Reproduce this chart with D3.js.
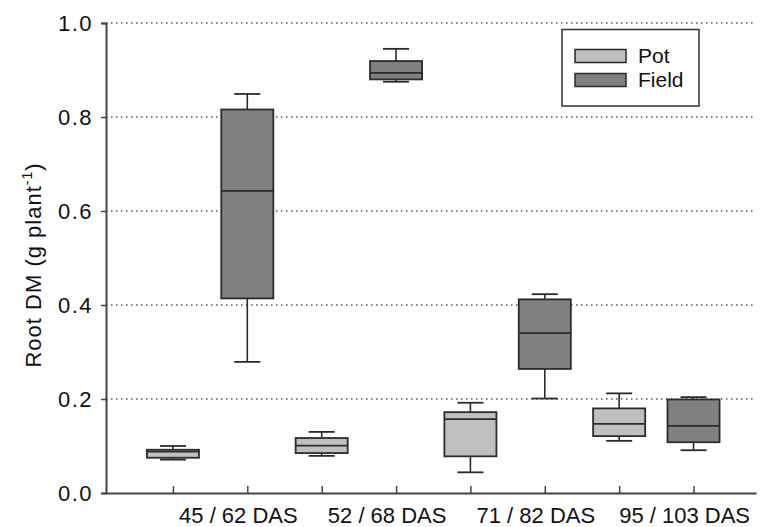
<!DOCTYPE html>
<html>
<head>
<meta charset="utf-8">
<script src="https://cdn.jsdelivr.net/npm/d3@7"></script>
<style>
  body { margin: 0; background: #fff; }
  svg { display: block; font-family: "Liberation Sans", Arial, sans-serif; }
</style>
</head>
<body>
<div id="chart"></div>
<script>
// categories and series
const groups = ["45 / 62 DAS", "52 / 68 DAS", "71 / 82 DAS", "95 / 103 DAS"];
const series = ["Pot", "Field"];
// box stats per group: [whisker low, q1, median, q3, whisker high]
const potStats = [
  [0.071, 0.075, 0.088, 0.092, 0.100],
  [0.079, 0.085, 0.101, 0.117, 0.130],
  [0.044, 0.078, 0.157, 0.172, 0.192],
  [0.111, 0.121, 0.147, 0.180, 0.212]
];
const fieldStats = [
  [0.279, 0.414, 0.643, 0.816, 0.849],
  [0.875, 0.880, 0.894, 0.919, 0.945],
  [0.201, 0.264, 0.340, 0.412, 0.423],
  [0.091, 0.108, 0.143, 0.199, 0.204]
];
const yTicks = [0, 0.2, 0.4, 0.6, 0.8, 1.0];

const width = 763, height = 527;
const colors = { Pot: "#bfbfbf", Field: "#808080" };
const stroke = "#2b2b2b";

const svg = d3.select("#chart").append("svg")
  .attr("width", width)
  .attr("height", height);

// slot index 1..8 : group*2 + series + 1
const x = d3.scaleLinear().domain([0.1, 8.84]).range([106, 756]);
const y = d3.scaleLinear().domain([0, 1]).range([493, 23]);
const boxW = x(0.7) - x(0);

// dotted grid
svg.append("g")
  .selectAll("line")
  .data(yTicks.filter(d => d > 0))
  .join("line")
  .attr("x1", x(0.1)).attr("x2", x(8.84))
  .attr("y1", d => y(d)).attr("y2", d => y(d))
  .attr("stroke", "#555")
  .attr("stroke-width", 1.5)
  .attr("stroke-dasharray", "1.5,3.5");

// flatten boxes
const boxes = [];
groups.forEach((g, gi) => {
  series.forEach((s, si) => {
    const st = (s === "Pot" ? potStats : fieldStats)[gi];
    boxes.push({ group: g, series: s, pos: gi * 2 + si + 1, st });
  });
});

const bg = svg.append("g")
  .selectAll("g")
  .data(boxes)
  .join("g")
  .attr("transform", d => `translate(${x(d.pos)},0)`);

// whiskers
bg.append("line")
  .attr("x1", 0).attr("x2", 0)
  .attr("y1", d => y(d.st[0])).attr("y2", d => y(d.st[4]))
  .attr("stroke", stroke).attr("stroke-width", 1.6);
bg.selectAll("line.cap")
  .data(d => [d.st[0], d.st[4]])
  .join("line")
  .attr("class", "cap")
  .attr("x1", -boxW / 4).attr("x2", boxW / 4)
  .attr("y1", v => y(v)).attr("y2", v => y(v))
  .attr("stroke", stroke).attr("stroke-width", 1.8);

// box
bg.append("rect")
  .attr("x", -boxW / 2)
  .attr("width", boxW)
  .attr("y", d => y(d.st[3]))
  .attr("height", d => y(d.st[1]) - y(d.st[3]))
  .attr("fill", d => colors[d.series])
  .attr("stroke", stroke)
  .attr("stroke-width", 1.8);

// median
bg.append("line")
  .attr("x1", -boxW / 2).attr("x2", boxW / 2)
  .attr("y1", d => y(d.st[2])).attr("y2", d => y(d.st[2]))
  .attr("stroke", stroke).attr("stroke-width", 1.8);

// y axis
const yAxis = svg.append("g")
  .attr("transform", `translate(${x(0.1)},0)`)
  .call(d3.axisLeft(y).tickValues(yTicks).tickFormat(d3.format(".1f")).tickSize(5).tickPadding(8));
yAxis.select(".domain").attr("stroke", "#444").attr("stroke-width", 2);
yAxis.selectAll(".tick line").attr("stroke", "#444").attr("stroke-width", 1.5);
yAxis.selectAll("text").attr("font-size", 22).attr("fill", "#111")
  .attr("letter-spacing", 1.5)
  .attr("font-family", "Liberation Sans, Arial, sans-serif");

// x axis line with inward ticks
const xAxis = svg.append("g")
  .attr("transform", `translate(0,${y(0)})`)
  .call(d3.axisBottom(x).tickValues(d3.range(1, 9)).tickSizeInner(-7).tickSizeOuter(0).tickFormat(""));
xAxis.select(".domain").attr("stroke", "#444").attr("stroke-width", 2);
xAxis.selectAll(".tick line").attr("stroke", "#444").attr("stroke-width", 1.5);

// group labels
svg.append("g")
  .selectAll("text")
  .data(groups)
  .join("text")
  .attr("x", (d, i) => x(i * 2 + 1.88))
  .attr("y", 523)
  .attr("text-anchor", "middle")
  .attr("font-size", 22)
  .attr("fill", "#111")
  .text(d => d);

// y label
const yl = svg.append("text")
  .attr("transform", "translate(41,265) rotate(-90)")
  .attr("text-anchor", "middle")
  .attr("font-size", 22)
  .attr("letter-spacing", 1)
  .attr("fill", "#111");
yl.append("tspan").text("Root DM (g plant");
yl.append("tspan").attr("dy", -9).attr("font-size", 14).text("-1");
yl.append("tspan").attr("dy", 9).text(")");

// legend
const lg = svg.append("g");
lg.append("rect")
  .attr("x", 562).attr("y", 29.5)
  .attr("width", 137).attr("height", 76.5)
  .attr("fill", "#fff").attr("stroke", "#333").attr("stroke-width", 1.5);
const li = lg.selectAll("g.item")
  .data(series)
  .join("g")
  .attr("class", "item")
  .attr("transform", (d, i) => `translate(575,${49.5 + i * 24})`);
li.append("rect")
  .attr("width", 51).attr("height", 13)
  .attr("fill", d => colors[d])
  .attr("stroke", stroke).attr("stroke-width", 1.5);
li.append("text")
  .attr("x", 63).attr("y", 13.5)
  .attr("font-size", 21)
  .attr("fill", "#111")
  .text(d => d);
</script>
</body>
</html>
